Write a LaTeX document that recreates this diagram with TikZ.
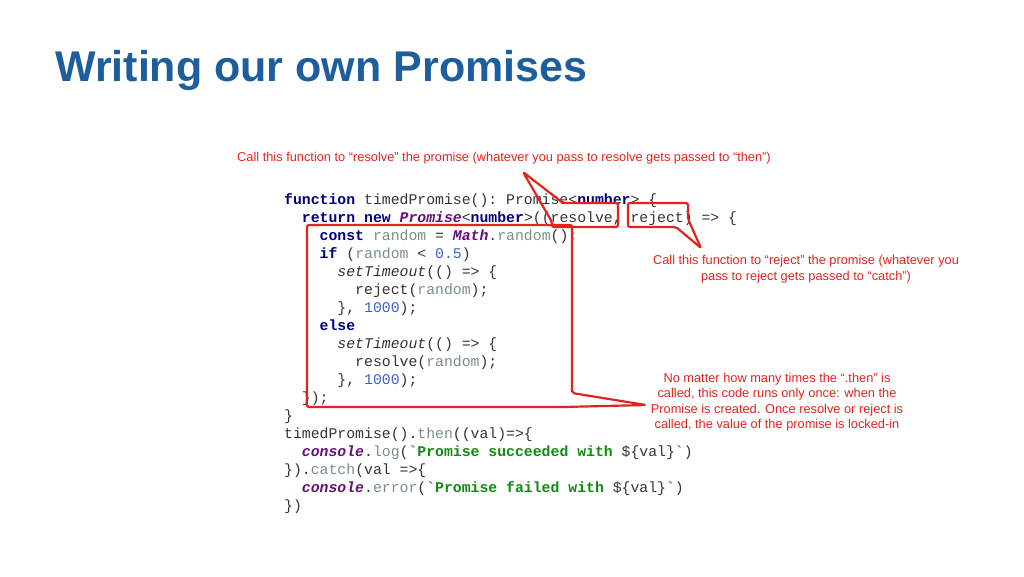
\documentclass[tikz,border=0pt]{standalone}
\usepackage{fontspec}
\setmainfont{Liberation Sans}
\setmonofont{Liberation Mono}
\definecolor{titleblue}{HTML}{1F5E9C}
\definecolor{notered}{HTML}{E5231E}
\definecolor{codegray}{HTML}{333333}
\definecolor{kwblue}{HTML}{000080}
\definecolor{tpurple}{HTML}{660E7A}
\definecolor{vargray}{HTML}{7A8F84}
\definecolor{numblue}{HTML}{3F5FD0}
\definecolor{strgreen}{HTML}{108A10}
\newcommand{\kw}[1]{\textcolor{kwblue}{\textbf{#1}}}
\newcommand{\tp}[1]{\textcolor{tpurple}{\textbf{\textit{#1}}}}
\newcommand{\vr}[1]{\textcolor{vargray}{#1}}
\newcommand{\nm}[1]{\textcolor{numblue}{#1}}
\newcommand{\str}[1]{\textcolor{strgreen}{\textbf{#1}}}
\tikzset{
  codeline/.style={anchor=base west, inner sep=0pt, text=codegray,
    font=\fontsize{14.8}{18}\selectfont\ttfamily},
  note/.style={align=center, text=notered, inner sep=0pt,
    font=\fontsize{12.8}{15.5}\selectfont},
  callout/.style={draw=notered, line width=2.2pt, rounded corners=2pt, line join=round}
}
\begin{document}
\begin{tikzpicture}[x=1pt, y=-1pt]
  \useasboundingbox (0,0) rectangle (1024,576);

  \node[anchor=base west, inner sep=0pt, text=titleblue,
    font=\fontsize{43}{45}\selectfont\bfseries] (title) at (55,81) {Writing our own Promises};

  % code, one line per row
  \foreach \ind/\row/\txt in {
    0/0/{\kw{function} timedPromise():\ Promise<\kw{number}>\ \{},
    2/1/{\kw{return}\ \kw{new}\ \tp{Promise}<\kw{number}>((resolve,\ reject)\ =>\ \{},
    4/2/{\kw{const}\ \vr{random}\ =\ \tp{Math}.\vr{random}();},
    4/3/{\kw{if}\ (\vr{random}\ <\ \nm{0.5})},
    6/4/{\textit{setTimeout}(()\ =>\ \{},
    8/5/{reject(\vr{random});},
    6/6/{\},\ \nm{1000});},
    4/7/{\kw{else}},
    6/8/{\textit{setTimeout}(()\ =>\ \{},
    8/9/{resolve(\vr{random});},
    6/10/{\},\ \nm{1000});},
    2/11/{\});},
    0/12/{\}},
    0/13/{timedPromise().\vr{then}((val)=>\{},
    2/14/{\tp{console}.\vr{log}(\str{`Promise\ succeeded\ with\ }\$\{val\}\str{`})},
    0/15/{\}).\vr{catch}(val\ =>\{},
    2/16/{\tp{console}.\vr{error}(\str{`Promise\ failed\ with\ }\$\{val\}\str{`})},
    0/17/{\})}} {
    \node[codeline] (code\row) at (284+\ind*8.88, 204+\row*18) {\txt};
  }

  % notes
  \node[note] (noteresolve) at (504,158) {Call this function to “resolve” the promise (whatever you pass to resolve gets passed to “then”)};
  \node[note] (notereject) at (806,269) {Call this function to “reject” the promise (whatever you\\pass to reject gets passed to “catch”)};
  \node[note] (noteonce) at (777,402) {No matter how many times the “.then” is\\called, this code runs only once: when the\\Promise is created. Once resolve or reject is\\called, the value of the promise is locked-in};

  % callouts
  \coordinate (tipresolve) at (523,172);
  \coordinate (tipreject) at (701,248);
  \coordinate (tiponce) at (646,405);
  \draw[callout] (563,203) -- (618,203) -- (618,227) -- (552,227) -- (552,222)
    -- (tipresolve) -- cycle;
  \draw[callout] (628,203) -- (688,203) -- (688,219) -- (tipreject) -- (676,227)
    -- (628,227) -- cycle;
  \draw[callout] (307,225) -- (572,225) -- (572,393) -- (tiponce) -- (563,407)
    -- (307,407) -- cycle;
\end{tikzpicture}
\end{document}
